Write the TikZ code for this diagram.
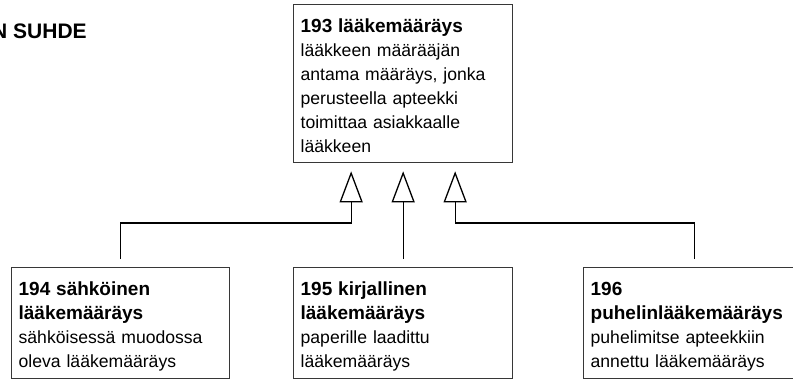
\documentclass[tikz,border=0pt]{standalone}
\usepackage{fontspec}
\setmainfont{Liberation Sans}
\usetikzlibrary{arrows.meta}
\definecolor{boxline}{RGB}{55,55,55}
\newcommand{\fstrut}{\rule{0pt}{28pt}}
\newcommand{\lstrut}[1]{\rule[-#1pt]{0pt}{#1pt}}
\newcommand{\boxtitle}[1]{{\bfseries\fontsize{19}{24}\selectfont #1}}
\tikzset{
  box/.style={draw=boxline, line width=1.3pt, anchor=north west, inner xsep=7pt, inner ysep=0pt,
    align=left, font=\fontsize{17.6}{24}\selectfont},
  gen/.style={draw=black, line width=1.3pt, -{Triangle[open, length=31pt, width=23pt]},
    shorten >=8pt, shorten <=8pt},
  heading/.style={anchor=base west, inner sep=0pt, font=\bfseries\fontsize{21}{25}\selectfont}
}
\begin{document}
\begin{tikzpicture}[x=1pt,y=-1pt]
\useasboundingbox (0,0) rectangle (793,381);
\clip (0,0) rectangle (793,381);
\node[heading] (head) at (-8,38) {N SUHDE};
\node[box, text width=205pt] (top) at (293,4)
  {\fstrut\boxtitle{193 lääkemääräys}\\ lääkkeen määrääjän\\ antama määräys, jonka\\ perusteella apteekki\\ toimittaa asiakkaalle\\ lääkkeen\lstrut{10}};
\node[box, text width=204pt] (b1) at (11,267)
  {\fstrut\boxtitle{194 sähköinen}\\ \boxtitle{lääkemääräys}\\ sähköisessä muodossa\\ oleva lääkemääräys\lstrut{11}};
\node[box, text width=205pt] (b2) at (293,267)
  {\fstrut\boxtitle{195 kirjallinen}\\ \boxtitle{lääkemääräys}\\ paperille laadittu\\ lääkemääräys\lstrut{11}};
\node[box, text width=208pt] (b3) at (583,267)
  {\fstrut\boxtitle{196}\\ \boxtitle{puhelinlääkemääräys}\\ puhelimitse apteekkiin\\ annettu lääkemääräys\lstrut{11}};
\draw[gen] (b1.north) -- ++(0,-44) -| ([xshift=-52pt]top.south);
\draw[gen] (b2.north) -- (top.south);
\draw[gen] (b3.north) -- ++(0,-44) -| ([xshift=52pt]top.south);
\end{tikzpicture}
\end{document}
